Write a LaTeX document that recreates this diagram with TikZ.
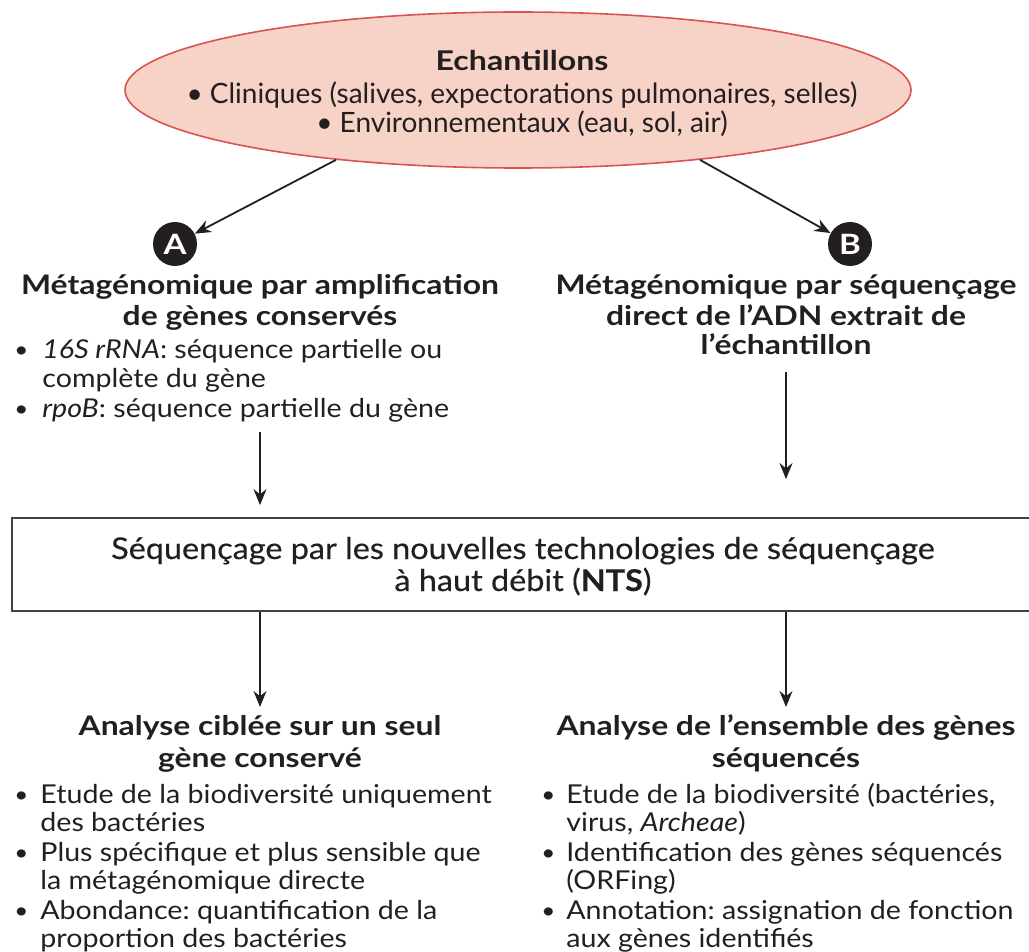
\documentclass[tikz,border=0pt]{standalone}
\usepackage{fontspec}
\setmainfont{Lato}
\newfontfamily\headfont{Lato}[FakeStretch=1.18]
\newfontfamily\bodyfont{Lato}[FakeStretch=1.1]
\newfontfamily\ellfont{Lato}[FakeStretch=1.0]
\newfontfamily\boxfont{Lato}[FakeStretch=1.08,FakeBold=0.4]
\frenchspacing
\usetikzlibrary{arrows.meta,shapes.geometric}
\definecolor{ink}{HTML}{231F20}
\definecolor{ellfill}{HTML}{F7D2C6}
\definecolor{elldraw}{HTML}{D9534F}
\tikzset{
  txt/.style={inner sep=0pt, text=ink},
  headline/.style={txt, anchor=base, font=\headfont\bfseries\fontsize{13.5}{16}\selectfont},
  bodyline/.style={txt, anchor=base west, font=\bodyfont\fontsize{13}{15}\selectfont},
  bul/.style={txt, anchor=base west, font=\bodyfont\fontsize{11}{14}\selectfont},
  elline/.style={txt, anchor=base, font=\ellfont\fontsize{14}{16}\selectfont},
  boxline/.style={txt, anchor=base, font=\boxfont\fontsize{15}{17}\selectfont},
  badge/.style={circle, fill=ink, text=white, inner sep=0pt, minimum size=22pt,
    font=\headfont\bfseries\fontsize{14}{16}\selectfont},
  conn/.style={draw=ink, line width=0.9pt, -{Stealth[length=8pt,width=6.5pt]}},
}
\begin{document}
\begin{tikzpicture}[x=0.5pt,y=-0.5pt]
\useasboundingbox (0,0) rectangle (1029,952);
\clip (0,0) rectangle (1029,952);
% ellipse
\node[ellipse, draw=elldraw, fill=ellfill, line width=0.8pt, minimum width=393pt, minimum height=78pt, inner sep=0pt] (ell) at (518,90) {};
\node[elline, font=\headfont\bfseries\fontsize{13.6}{16}\selectfont] (e1) at (522,71) {Echantillons};
\node[elline] (e2) at (522,104) {• Cliniques (salives, expectorations pulmonaires, selles)};
\node[elline] (e3) at (522,133) {• Environnementaux (eau, sol, air)};
% badges
\node[badge] (A) at (175,244) {A};
\node[badge] (B) at (850,244) {B};
\draw[conn] (ell.201) -- (A);
\draw[conn] (ell.-21) -- (B);
% A block
\node[headline] (ha1) at (260,295) {Métagénomique par amplification};
\node[headline] (ha2) at (260,326) {de gènes conservés};
\node[bul] (ba1) at (14,358) {•};
\node[bodyline] (la1) at (42,359) {\textit{16S rRNA}: séquence partielle ou};
\node[bodyline] (la2) at (42,387) {complète du gène};
\node[bul] (ba2) at (14,416) {•};
\node[bodyline] (la3) at (42,417) {\textit{rpoB}: séquence partielle du gène};
% B block
\node[headline] (hb1) at (786,295) {Métagénomique par séquençage};
\node[headline] (hb2) at (786,326) {direct de l’ADN extrait de};
\node[headline] (hb3) at (786,355) {l’échantillon};
% central box
\node[draw=ink!85, line width=0.9pt, fill=white, minimum width=511pt, minimum height=46.5pt, inner sep=0pt] (box) at (523,564.5) {};
\node[boxline] (s1) at (523,559) {Séquençage par les nouvelles technologies de séquençage};
\node[boxline] (s2) at (523,591) {à haut débit (\textbf{NTS})};
% arrows to box
\coordinate (ta) at (260,432);
\coordinate (tb) at (786,372);
\draw[conn, shorten >=6pt] (ta) -- (ta |- box.north);
\draw[conn, shorten >=19pt] (tb) -- (tb |- box.north);
% bottom headings
\node[headline] (hc1) at (260,735) {Analyse ciblée sur un seul};
\node[headline] (hc2) at (260,767) {gène conservé};
\node[headline] (hd1) at (786,735) {Analyse de l’ensemble des gènes};
\node[headline] (hd2) at (786,767) {séquencés};
\coordinate (ca) at (260,707);
\coordinate (cb) at (786,707);
\draw[conn] (ta |- box.south) -- (ca);
\draw[conn] (tb |- box.south) -- (cb);
% bottom left list
\node[bul] (bc1) at (14,802) {•};
\node[bodyline] (lc1) at (40,803) {Etude de la biodiversité uniquement};
\node[bodyline] (lc2) at (40,831) {des bactéries};
\node[bul] (bc2) at (14,860) {•};
\node[bodyline] (lc3) at (40,861) {Plus spécifique et plus sensible que};
\node[bodyline] (lc4) at (40,889) {la métagénomique directe};
\node[bul] (bc3) at (14,918) {•};
\node[bodyline] (lc5) at (40,919) {Abondance: quantification de la};
\node[bodyline] (lc6) at (40,947) {proportion des bactéries};
% bottom right list
\node[bul] (bd1) at (541,802) {•};
\node[bodyline] (ld1) at (566,803) {Etude de la biodiversité (bactéries,};
\node[bodyline] (ld2) at (566,831) {virus, \textit{Archeae})};
\node[bul] (bd2) at (541,860) {•};
\node[bodyline] (ld3) at (566,861) {Identification des gènes séquencés};
\node[bodyline] (ld4) at (566,889) {(ORFing)};
\node[bul] (bd3) at (541,918) {•};
\node[bodyline] (ld5) at (566,919) {Annotation: assignation de fonction};
\node[bodyline] (ld6) at (566,947) {aux gènes identifiés};
\end{tikzpicture}
\end{document}
